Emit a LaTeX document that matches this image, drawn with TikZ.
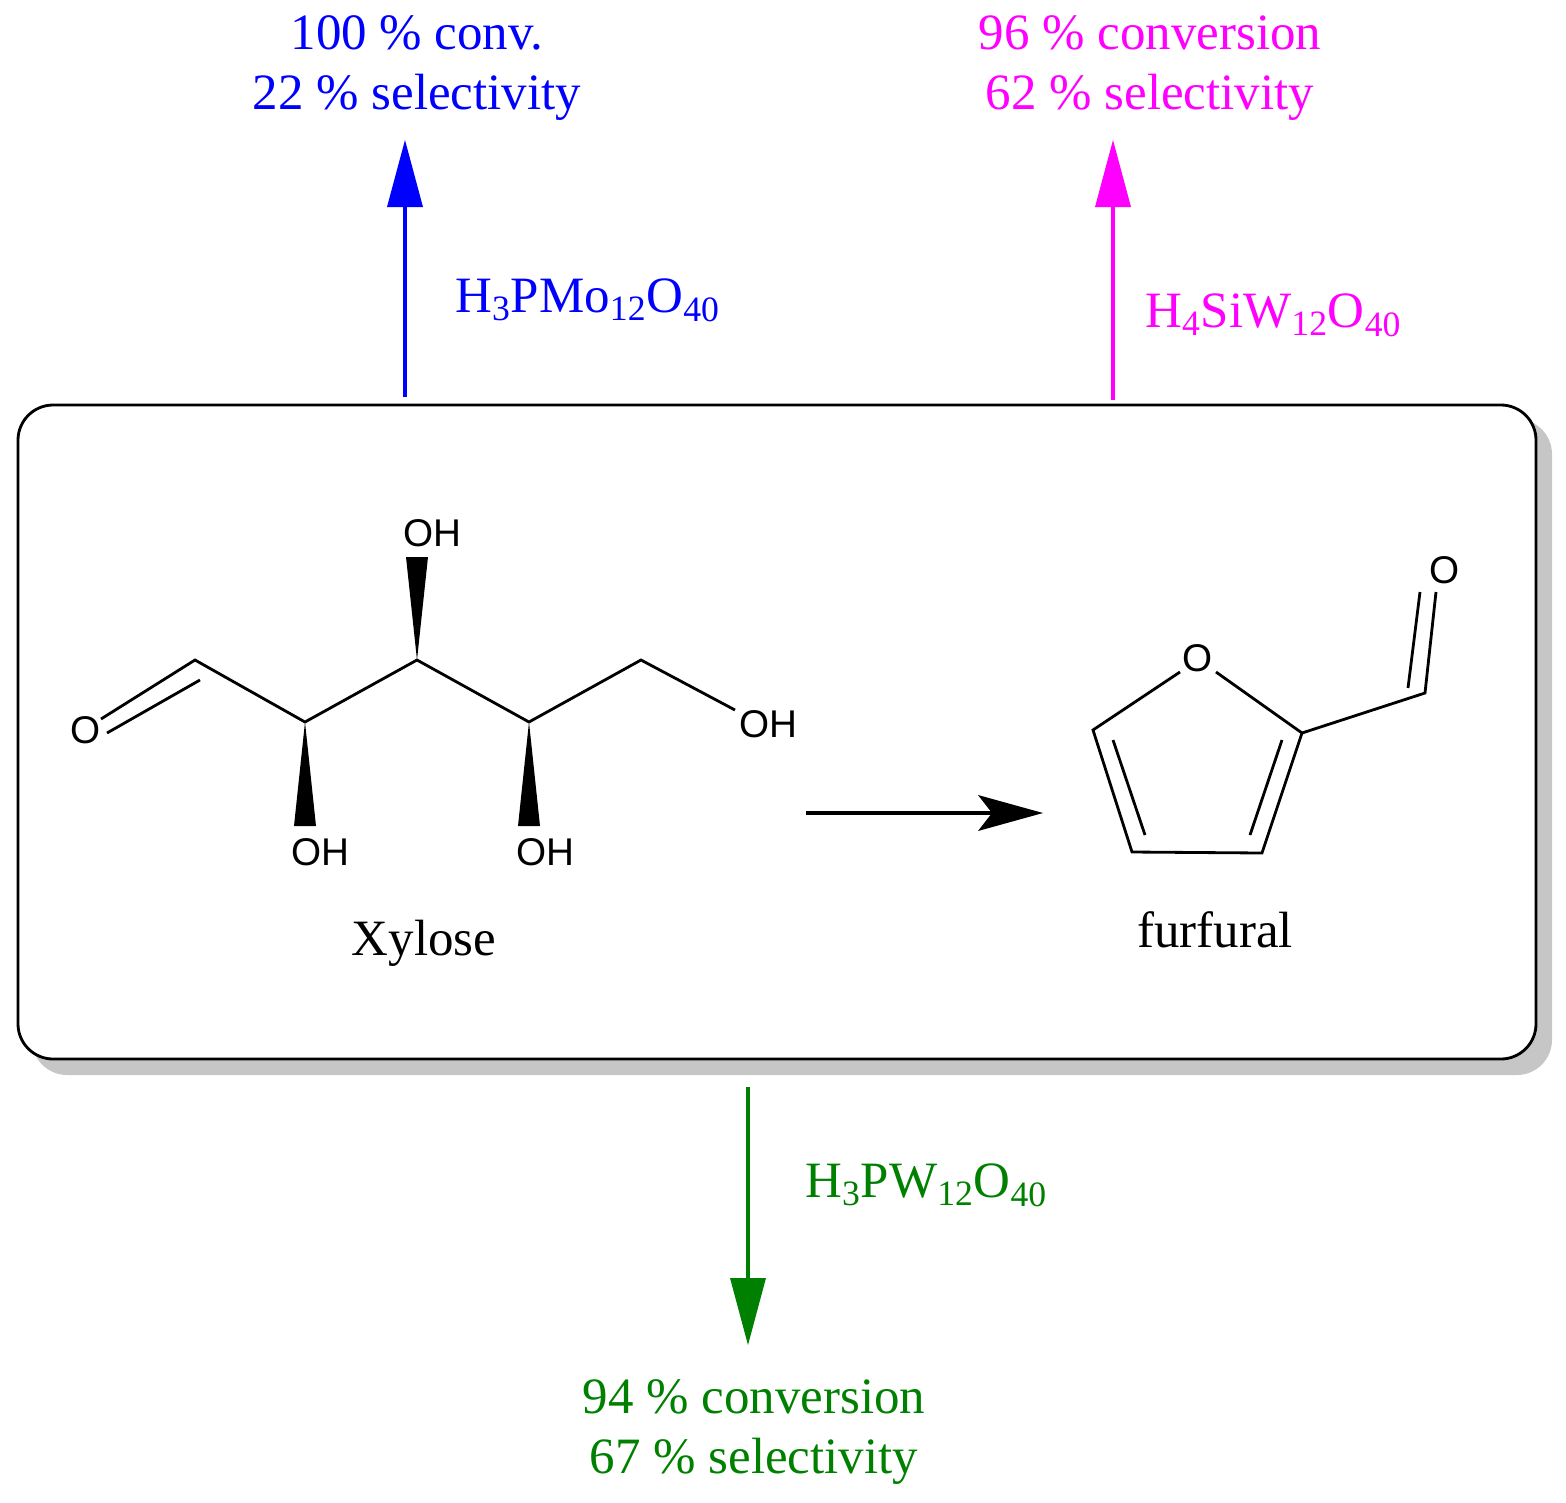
\documentclass[tikz,border=0pt]{standalone}
\usepackage{fontspec}
\setmainfont{Liberation Serif}
\setsansfont{Liberation Sans}
\definecolor{myblue}{RGB}{0,0,255}
\definecolor{mymag}{RGB}{255,0,255}
\definecolor{mygreen}{RGB}{0,128,0}
\begin{document}
\begin{tikzpicture}[x=0.02cm,y=-0.02cm,
  lbl/.style={font=\fontsize{29}{34}\selectfont,align=center,inner sep=0},
  atom/.style={font=\sffamily\fontsize{22}{26}\selectfont,inner sep=0},
  bond/.style={line width=1.6pt},
  vline/.style={line width=2.4pt},
  wedge/.style={fill=black}]
\useasboundingbox (0,0) rectangle (1566,1502);
% box
\fill[gray!45] (32,419) [rounded corners=20] rectangle (1552,1075);
\draw[line width=1.6pt,fill=white,rounded corners=20] (18,405) rectangle (1536,1059);
% blue
\coordinate (bs) at (405,397); \coordinate (be) at (405,140);
\draw[myblue,vline] (bs) -- (405,200);
\fill[myblue] (be) -- (387,207) -- (423,207) -- cycle;
\node[lbl,myblue] (bt) at (417,68) {100 \% conv.\\22 \% selectivity};
\node[lbl,myblue,anchor=west] (bc) at (455,300) {H\textsubscript{3}PMo\textsubscript{12}O\textsubscript{40}};
% magenta
\coordinate (ms) at (1113,400); \coordinate (me) at (1113,140);
\draw[mymag,vline] (ms) -- (1113,200);
\fill[mymag] (me) -- (1095,207) -- (1131,207) -- cycle;
\node[lbl,mymag] (mt) at (1150,68) {96 \% conversion\\62 \% selectivity};
\node[lbl,mymag,anchor=west] (mc) at (1145,315) {H\textsubscript{4}SiW\textsubscript{12}O\textsubscript{40}};
% green
\coordinate (gs) at (748,1087); \coordinate (ge) at (748,1345);
\draw[mygreen,vline] (gs) -- (748,1285);
\fill[mygreen] (ge) -- (730,1278) -- (766,1278) -- cycle;
\node[lbl,mygreen] (gt) at (754,1432) {94 \% conversion\\67 \% selectivity};
\node[lbl,mygreen,anchor=west] (gc) at (805,1185) {H\textsubscript{3}PW\textsubscript{12}O\textsubscript{40}};
% reaction arrow
\coordinate (ra) at (806,813); \coordinate (rb) at (1043,813);
\draw[vline] (ra) -- (1000,813);
\fill (rb) -- (978,795) -- (992,813) -- (978,831) -- cycle;
% xylose
\node[atom] (O1) at (86,730) {O};
\coordinate (c1) at (195,660); \coordinate (c2) at (305,722);
\coordinate (c3) at (417,660); \coordinate (c4) at (529,722);
\coordinate (c5) at (641,660);
\node[atom] (O5) at (768,724) {OH};
\node[atom] (O2) at (320,852) {OH};
\node[atom] (O3) at (432,533) {OH};
\node[atom] (O4) at (545,852) {OH};
\draw[bond] (101,719) -- (c1) -- (c2) -- (c3) -- (c4) -- (c5) -- (735,710);
\draw[bond] (107,733) -- (200,680);
\fill[wedge] (c2) -- (294,826) -- (316,826) -- cycle;
\fill[wedge] (c3) -- (406,557) -- (428,557) -- cycle;
\fill[wedge] (c4) -- (518,826) -- (540,826) -- cycle;
\node[lbl] (xl) at (424,943) {Xylose};
% furfural
\node[atom] (Of) at (1198,658) {O};
\coordinate (f2) at (1302,733); \coordinate (f3) at (1262,853);
\coordinate (f4) at (1132,852); \coordinate (f5) at (1093,730);
\coordinate (fc) at (1425,693);
\node[atom] (Oa) at (1445,570) {O};
\draw[bond] (1180,672) -- (f5) -- (f4) -- (f3) -- (f2) -- (1216,672);
\draw[bond] (1113,740) -- (1145,835);
\draw[bond] (1282,740) -- (1250,835);
\draw[bond] (f2) -- (fc) -- (1436,592);
\draw[bond] (1408,688) -- (1420,592);
\node[lbl] (fl) at (1215,930) {furfural};
\end{tikzpicture}
\end{document}
